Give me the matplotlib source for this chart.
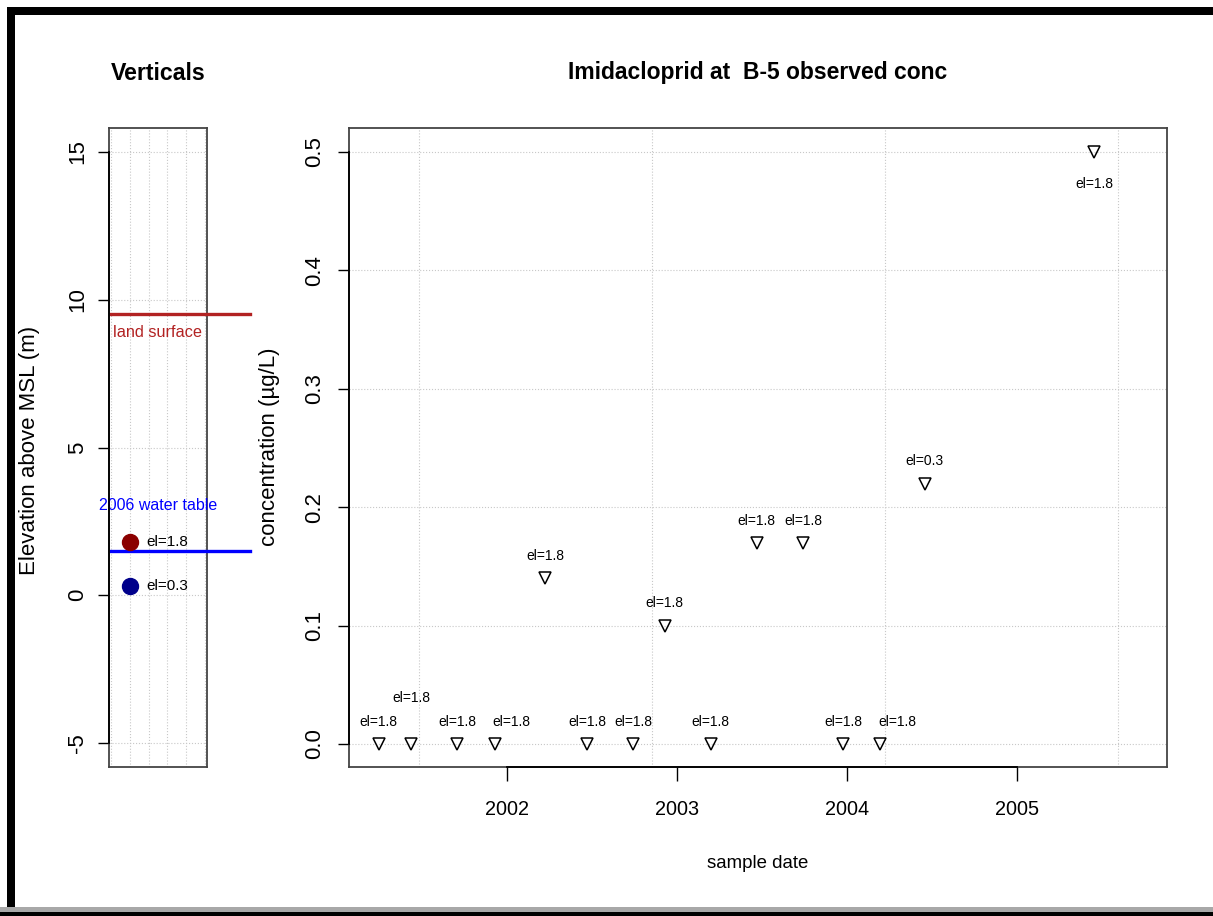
import numpy as np
import matplotlib
matplotlib.use("Agg")
import matplotlib.pyplot as plt
from matplotlib.patches import Rectangle

# sample dates, concentrations and screen elevations for well B-5
sample_dates = np.array([
    "2001-04-01", "2001-06-09", "2001-09-16", "2001-12-06", "2002-03-24",
    "2002-06-22", "2002-09-29", "2002-12-06", "2003-03-15", "2003-06-22",
    "2003-09-29", "2003-12-24", "2004-03-12", "2004-06-17", "2005-06-15",
], dtype="datetime64[D]")
conc = [0.0, 0.0, 0.0, 0.0, 0.14, 0.0, 0.0, 0.10, 0.0, 0.17,
        0.17, 0.0, 0.0, 0.22, 0.50]
elev = [1.8, 1.8, 1.8, 1.8, 1.8, 1.8, 1.8, 1.8, 1.8, 1.8,
        1.8, 1.8, 1.8, 0.3, 1.8]

land_surface = 9.5
water_table = 1.5
elev_ticks = [-5, 0, 5, 10, 15]
conc_ticks = [0.0, 0.1, 0.2, 0.3, 0.4, 0.5]
year_ticks = np.array(["2002-01-01", "2003-01-01", "2004-01-01", "2005-01-01"],
                      dtype="datetime64[D]")
year_labels = ["2002", "2003", "2004", "2005"]

FONT = ["Liberation Sans", "DejaVu Sans"]

W, H = 1213.0, 916.0
fig = plt.figure(figsize=(W / 100, H / 100), dpi=100)


def px(x, y, w, h):
    return [x / W, 1 - (y + h) / H, w / W, h / H]


# frame round the picture
fig.add_artist(Rectangle((7 / W, 1 - 912 / H), 8 / W, 905 / H, transform=fig.transFigure,
                         color="black", lw=0))
fig.add_artist(Rectangle((7 / W, 1 - 15 / H), 1 - 7 / W, 8 / H, transform=fig.transFigure,
                         color="black", lw=0))
fig.add_artist(Rectangle((0, 1 - 912 / H), 1, 5 / H, transform=fig.transFigure,
                         color="#a8a8a8", lw=0))
fig.add_artist(Rectangle((0, 0), 1, 4 / H, transform=fig.transFigure,
                         color="black", lw=0))


def style_axes(ax):
    for s in ax.spines.values():
        s.set_color("#444444")
        s.set_linewidth(1.3)
    ax.tick_params(axis="both", direction="out", length=8, width=1, color="black")


# ---- left panel: verticals
ax1 = fig.add_axes(px(109, 128, 98, 639))
style_axes(ax1)
ax1.set_xlim(-0.1, 5.1)
ax1.set_ylim(-5.81, 15.81)
for gx in range(6):
    ax1.axvline(gx, color="#c8c8c8", ls=":", lw=0.8, zorder=0)
for gy in elev_ticks:
    ax1.axhline(gy, color="#c8c8c8", ls=":", lw=0.8, zorder=0)
ax1.set_xticks([])
ax1.set_yticks(elev_ticks)
ax1.set_yticklabels([str(t) for t in elev_ticks], rotation=90, va="center",
                    family=FONT, fontsize=16)
ax1.tick_params(axis="y", pad=7)
# axis line from first to last tick
ax1.plot([0, 0], [elev_ticks[0], elev_ticks[-1]], transform=ax1.get_yaxis_transform(),
         color="black", lw=1.3, clip_on=False, zorder=5)

ax1.plot([0.02, 1.44], [land_surface, land_surface], transform=ax1.get_yaxis_transform(),
         color="#b22222", lw=2.4, clip_on=False, zorder=3)
ax1.text(0.04, land_surface - 0.6, "land surface", transform=ax1.get_yaxis_transform(),
         color="#b22222", fontsize=11.7, family=FONT, ha="left", va="center")
ax1.plot([0.02, 1.44], [water_table, water_table], transform=ax1.get_yaxis_transform(),
         color="#0000ff", lw=2.4, clip_on=False, zorder=3)
ax1.text(0.5, water_table + 1.55, "2006 water table", transform=ax1.get_yaxis_transform(),
         color="#0000ff", fontsize=11.5, family=FONT, ha="center", va="center",
         clip_on=False)

el_colors = {1.8: "darkred", 0.3: "darkblue"}
for e in sorted(set(elev)):
    ax1.plot([1], [e], "o", ms=11.5, color=el_colors[e], zorder=4)
    ax1.text(1.9, e, "el=%.1f" % e, fontsize=11, family=FONT, va="center",
             ha="left", clip_on=False)

# ---- right panel: observed concentrations
ax2 = fig.add_axes(px(349, 128, 818, 639))
style_axes(ax2)
ax2.set_xlim(np.datetime64("2001-01-27"), np.datetime64("2005-11-19"))
ax2.set_ylim(-0.0194, 0.5203)
grid_days = np.arange(11500, 13500, 500).astype("datetime64[D]")
for g in grid_days:
    ax2.axvline(g, color="#c8c8c8", ls=":", lw=0.8, zorder=0)
for gy in conc_ticks:
    ax2.axhline(gy, color="#c8c8c8", ls=":", lw=0.8, zorder=0)
ax2.set_xticks(year_ticks)
ax2.set_xticklabels(year_labels, family=FONT, fontsize=14.3)
ax2.set_yticks(conc_ticks)
ax2.set_yticklabels(["%.1f" % t for t in conc_ticks], rotation=90, va="center",
                    family=FONT, fontsize=16)
ax2.tick_params(axis="x", length=10, pad=14)
ax2.tick_params(axis="y", pad=9)
ax2.plot([year_ticks[0], year_ticks[-1]], [0, 0], transform=ax2.get_xaxis_transform(),
         color="black", lw=1.3, clip_on=False, zorder=5)
ax2.plot([0, 0], [conc_ticks[0], conc_ticks[-1]], transform=ax2.get_yaxis_transform(),
         color="black", lw=1.3, clip_on=False, zorder=5)

ax2.plot(sample_dates, conc, "v", ms=9, mfc="none", mec="black", mew=1.1, zorder=3)

# label placement nudges (points) to avoid overlaps, as in the original
nudge = {1: (0, 33), 3: (12, 16), 12: (13, 16), 14: (0, -23)}
for i, (d, c, e) in enumerate(zip(sample_dates, conc, elev)):
    dx, dy = nudge.get(i, (0, 16))
    ax2.annotate("el=%.1f" % e, (d, c), xytext=(dx, dy), textcoords="offset points",
                 ha="center", va="center", fontsize=10, family=FONT)

# titles and axis labels
fig.text(158 / W, 1 - 73 / H, "Verticals", ha="center", va="center",
         fontsize=16.7, fontweight="bold", family=FONT)
fig.text(758 / W, 1 - 73 / H, "Imidacloprid at  B-5 observed conc", ha="center",
         va="center", fontsize=16.5, fontweight="bold", family=FONT)
fig.text(30 / W, 1 - 450 / H, "Elevation above MSL (m)", rotation=90, ha="center",
         va="center", fontsize=16, family=FONT)
fig.text(270 / W, 1 - 447 / H, "concentration (\u00b5g/L)", rotation=90, ha="center",
         va="center", fontsize=16, family=FONT)
fig.text(758 / W, 1 - 864 / H, "sample date", ha="center", va="center",
         fontsize=13.4, family=FONT)

fig.savefig("out.png", dpi=100)
